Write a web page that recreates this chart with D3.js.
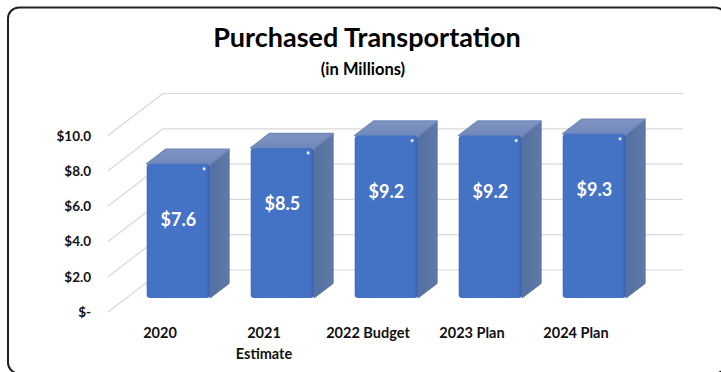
<!DOCTYPE html>
<html>
<head>
<meta charset="utf-8">
<script src="https://cdn.jsdelivr.net/npm/d3@7"></script>
<style>
  html, body { margin: 0; padding: 0; background: #fff; }
  svg { display: block; }
  text { font-family: Lato, "Open Sans", sans-serif; font-weight: bold; }
</style>
</head>
<body>
<svg id="chart" width="721" height="372"></svg>
<script>
// Purchased Transportation, in millions of dollars
const categories = [["2020"], ["2021", "Estimate"], ["2022 Budget"], ["2023 Plan"], ["2024 Plan"]];
const values = [7.6, 8.5, 9.2, 9.2, 9.3];
const tickValues = [0, 2, 4, 6, 8, 10];
const tickLabels = ["$-", "$2.0", "$4.0", "$6.0", "$8.0", "$10.0"];
const valueLabels = ["$7.6", "$8.5", "$9.2", "$9.2", "$9.3"];

const svg = d3.select("#chart");

// Outer frame
svg.append("rect")
  .attr("x", 8).attr("y", 7.5)
  .attr("width", 718).attr("height", 366)
  .attr("rx", 11)
  .attr("fill", "#fff")
  .attr("stroke", "#222").attr("stroke-width", 2);

// Titles
svg.append("text")
  .attr("x", 367).attr("y", 47)
  .attr("text-anchor", "middle")
  .attr("font-size", 27)
  .attr("fill", "#000")
  .text("Purchased Transportation");
svg.append("text")
  .attr("x", 363).attr("y", 75)
  .attr("text-anchor", "middle")
  .attr("font-size", 16.5)
  .attr("fill", "#000")
  .text("(in Millions)");

// Oblique 3D projection: x along categories, y by value, depth d in [0,1]
const floorLeft = 108, floorRight = 628;
const depthDX = 55, depthDY = -42;
const x = d3.scaleBand().domain(d3.range(values.length)).range([floorLeft, floorRight]);
const y = d3.scaleLinear().domain([0, 10]).range([312, 135.5]);
const proj = (px, v, d) => [px + d * depthDX, y(v) + d * depthDY];

// Walls: diagonal side-wall lines and back-wall gridlines
const grid = svg.append("g").attr("stroke", "#d9d9d9").attr("stroke-width", 1.2).attr("fill", "none");
tickValues.forEach(v => {
  const a = proj(floorLeft, v, 0), b = proj(floorLeft, v, 1), c = proj(floorRight, v, 1);
  grid.append("line").attr("x1", a[0]).attr("y1", a[1]).attr("x2", b[0]).attr("y2", b[1]);
  grid.append("line").attr("x1", b[0]).attr("y1", b[1]).attr("x2", c[0]).attr("y2", c[1]);
});

// Value axis labels
svg.append("g").selectAll("text").data(tickValues).join("text")
  .attr("x", 91).attr("y", v => y(v) + 5)
  .attr("text-anchor", "end")
  .attr("font-size", 13.5)
  .attr("fill", "#111")
  .text((v, i) => tickLabels[i]);

// Category labels
const catG = svg.append("g");
categories.forEach((lines, i) => {
  const cx = x(i) + x.bandwidth() / 2;
  const t = catG.append("text")
    .attr("x", cx)
    .attr("y", 338)
    .attr("text-anchor", "middle")
    .attr("font-size", 14.5)
    .attr("fill", "#111");
  lines.forEach((ln, k) => {
    t.append("tspan").attr("x", cx).attr("dy", k === 0 ? 0 : 21).text(ln);
  });
});

// Gradients for the bar faces
const defs = svg.append("defs");
const gFront = defs.append("linearGradient").attr("id", "front").attr("x1", 0).attr("x2", 1).attr("y1", 0).attr("y2", 0);
gFront.append("stop").attr("offset", "0%").attr("stop-color", "#3f6bbd");
gFront.append("stop").attr("offset", "5%").attr("stop-color", "#4472c4");
gFront.append("stop").attr("offset", "92%").attr("stop-color", "#4472c4");
gFront.append("stop").attr("offset", "100%").attr("stop-color", "#3b64ae");
const gSide = defs.append("linearGradient").attr("id", "side").attr("x1", 0).attr("x2", 1).attr("y1", 0).attr("y2", 0);
gSide.append("stop").attr("offset", "0%").attr("stop-color", "#5470a0");
gSide.append("stop").attr("offset", "100%").attr("stop-color", "#5f79a8");
const gTop = defs.append("linearGradient").attr("id", "top").attr("x1", 0).attr("x2", 0).attr("y1", 1).attr("y2", 0);
gTop.append("stop").attr("offset", "0%").attr("stop-color", "#7088b9");
gTop.append("stop").attr("offset", "100%").attr("stop-color", "#7f94c2");

// Bars
const dFront = 0.335, dBack = 0.68;
const barFrac = 0.61;
const bars = svg.append("g");
values.forEach((v, i) => {
  const bw = x.bandwidth() * barFrac;
  const left = x(i) + (x.bandwidth() - bw) / 2;
  const right = left + bw;
  const p = (px, val, d) => proj(px, val, d).join(",");
  const g = bars.append("g");
  // side face
  g.append("polygon")
    .attr("points", [p(right, 0, dFront), p(right, 0, dBack), p(right, v, dBack), p(right, v, dFront)].join(" "))
    .attr("fill", "url(#side)")
    .attr("stroke", "#5a74a3").attr("stroke-width", 1).attr("stroke-linejoin", "round");
  // top face
  g.append("polygon")
    .attr("points", [p(left, v, dFront), p(right, v, dFront), p(right, v, dBack), p(left, v, dBack)].join(" "))
    .attr("fill", "url(#top)")
    .attr("stroke", "#7289ba").attr("stroke-width", 1.5).attr("stroke-linejoin", "round");
  // front face
  const f0 = proj(left, v, dFront), f1 = proj(right, 0, dFront);
  g.append("rect")
    .attr("x", f0[0]).attr("y", f0[1])
    .attr("width", f1[0] - f0[0]).attr("height", f1[1] - f0[1])
    .attr("rx", 3.5)
    .attr("fill", "url(#front)");
  // specular dot
  g.append("circle")
    .attr("cx", f1[0] - 6).attr("cy", f0[1] + 5)
    .attr("r", 1.6).attr("fill", "#d8e6ff");
  // value label
  g.append("text")
    .attr("x", (f0[0] + f1[0]) / 2)
    .attr("y", f0[1] + 62)
    .attr("text-anchor", "middle")
    .attr("font-size", 18)
    .attr("fill", "#fff")
    .text(valueLabels[i]);
});
</script>
</body>
</html>
